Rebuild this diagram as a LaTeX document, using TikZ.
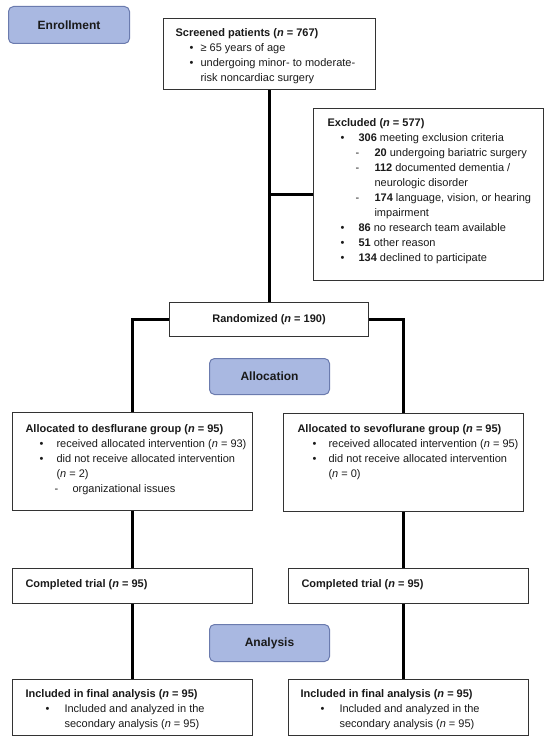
\documentclass[tikz,border=0pt]{standalone}
\usepackage{fontspec}
\setmainfont{Liberation Sans}
\usepackage{tikz}
\definecolor{ink}{HTML}{1A1A1A}
\definecolor{edge}{HTML}{333333}
\definecolor{tagfill}{HTML}{A9B8E1}
\definecolor{tagline}{HTML}{6B7BAE}
\newcommand{\topgap}[1]{\rule{0pt}{#1pt}}
\newcommand{\itm}[3]{\makebox[#2pt][l]{\hspace*{#1pt}#3}}
\newcommand{\cont}[1]{\makebox[#1pt][l]{}}
\newcommand{\boxtext}[4]{\parbox[c][#2pt][t]{#1pt}{\raggedright\leftskip=#3pt\relax #4}}

\begin{document}
\begin{tikzpicture}[x=1pt,y=-1pt,
  box/.style={draw=edge,line width=1.1pt,fill=white,inner sep=0pt,anchor=north west,
    text=ink,font=\fontsize{11}{15}\selectfont},
  tag/.style={draw=tagline,fill=tagfill,line width=1pt,rounded corners=5pt,inner sep=0pt,
    anchor=north west,text=ink,font=\bfseries\fontsize{12}{14}\selectfont},
  link/.style={black,line width=2.2pt}]
\useasboundingbox (0,0) rectangle (550,746);
% phase labels
\node[tag,minimum width=121pt,minimum height=37pt] (enrol) at (8,6) {Enrollment};
\node[tag,minimum width=120pt,minimum height=36pt] (alloc) at (209,358) {Allocation};
\node[tag,minimum width=120pt,minimum height=37pt] (anal) at (209,624) {Analysis};
% enrollment
\node[box] (screen) at (163,18) {\boxtext{212}{71}{12}{\topgap{18}\textbf{Screened patients (\textit{n} = 767)}\\
  \itm{14}{25}{\textbullet}≥ 65 years of age\\
  \itm{14}{25}{\textbullet}undergoing minor- to moderate-\\
  \cont{25}risk noncardiac surgery}};
\node[box] (excl) at (313,108) {\boxtext{230}{172}{14}{\topgap{18}\textbf{Excluded (\textit{n} = 577)}\\
  \itm{13}{31}{\textbullet}\textbf{306} meeting exclusion criteria\\
  \itm{28}{47}{-}\textbf{20} undergoing bariatric surgery\\
  \itm{28}{47}{-}\textbf{112} documented dementia /\\
  \cont{47}neurologic disorder\\
  \itm{28}{47}{-}\textbf{174} language, vision, or hearing\\
  \cont{47}impairment\\
  \itm{13}{31}{\textbullet}\textbf{86} no research team available\\
  \itm{13}{31}{\textbullet}\textbf{51} other reason\\
  \itm{13}{31}{\textbullet}\textbf{134} declined to participate}};
\node[box,minimum width=199pt,minimum height=34pt,font=\bfseries\fontsize{11}{15}\selectfont] (rand) at (169,302) {Randomized (\textit{n} = 190)};
% allocation
\node[box] (desf) at (12,412) {\boxtext{240}{98}{13}{\topgap{20}\textbf{Allocated to desflurane group (\textit{n} = 95)}\\
  \itm{14}{31}{\textbullet}received allocated intervention (\textit{n} = 93)\\
  \itm{14}{31}{\textbullet}did not receive allocated intervention\\
  \cont{31}(\textit{n} = 2)\\
  \itm{29}{47}{-}organizational issues}};
\node[box] (sevo) at (283,413) {\boxtext{240}{98}{14}{\topgap{19}\textbf{Allocated to sevoflurane group (\textit{n} = 95)}\\
  \itm{15}{31}{\textbullet}received allocated intervention (\textit{n} = 95)\\
  \itm{15}{31}{\textbullet}did not receive allocated intervention\\
  \cont{31}(\textit{n} = 0)}};
\node[box] (doneL) at (12,568) {\boxtext{240}{35}{13}{\topgap{19}\textbf{Completed trial (\textit{n} = 95)}}};
\node[box] (doneR) at (288,568) {\boxtext{240}{35}{13}{\topgap{19}\textbf{Completed trial (\textit{n} = 95)}}};
% analysis
\node[box] (finL) at (12,679) {\boxtext{240}{56}{13}{\topgap{18}\textbf{Included in final analysis (\textit{n} = 95)}\\
  \itm{20}{39}{\textbullet}Included and analyzed in the\\
  \cont{39}secondary analysis (\textit{n} = 95)}};
\node[box] (finR) at (288,679) {\boxtext{240}{56}{12}{\topgap{18}\textbf{Included in final analysis (\textit{n} = 95)}\\
  \itm{20}{39}{\textbullet}Included and analyzed in the\\
  \cont{39}secondary analysis (\textit{n} = 95)}};
% flow lines
\draw[link] (screen.south) -- (screen.south |- rand.north);
\draw[link] (excl.west) -- (excl.west -| screen.south);
\draw[link] (rand.west) -| (desf.north);
\draw[link] (rand.east) -| (sevo.north);
\draw[link] (desf.south) -- (doneL.north);
\draw[link] (doneL.south) -- (finL.north);
\draw[link] (sevo.south) -- (sevo.south |- doneR.north);
\draw[link] (sevo.south |- doneR.south) -- (sevo.south |- finR.north);
\end{tikzpicture}
\end{document}
